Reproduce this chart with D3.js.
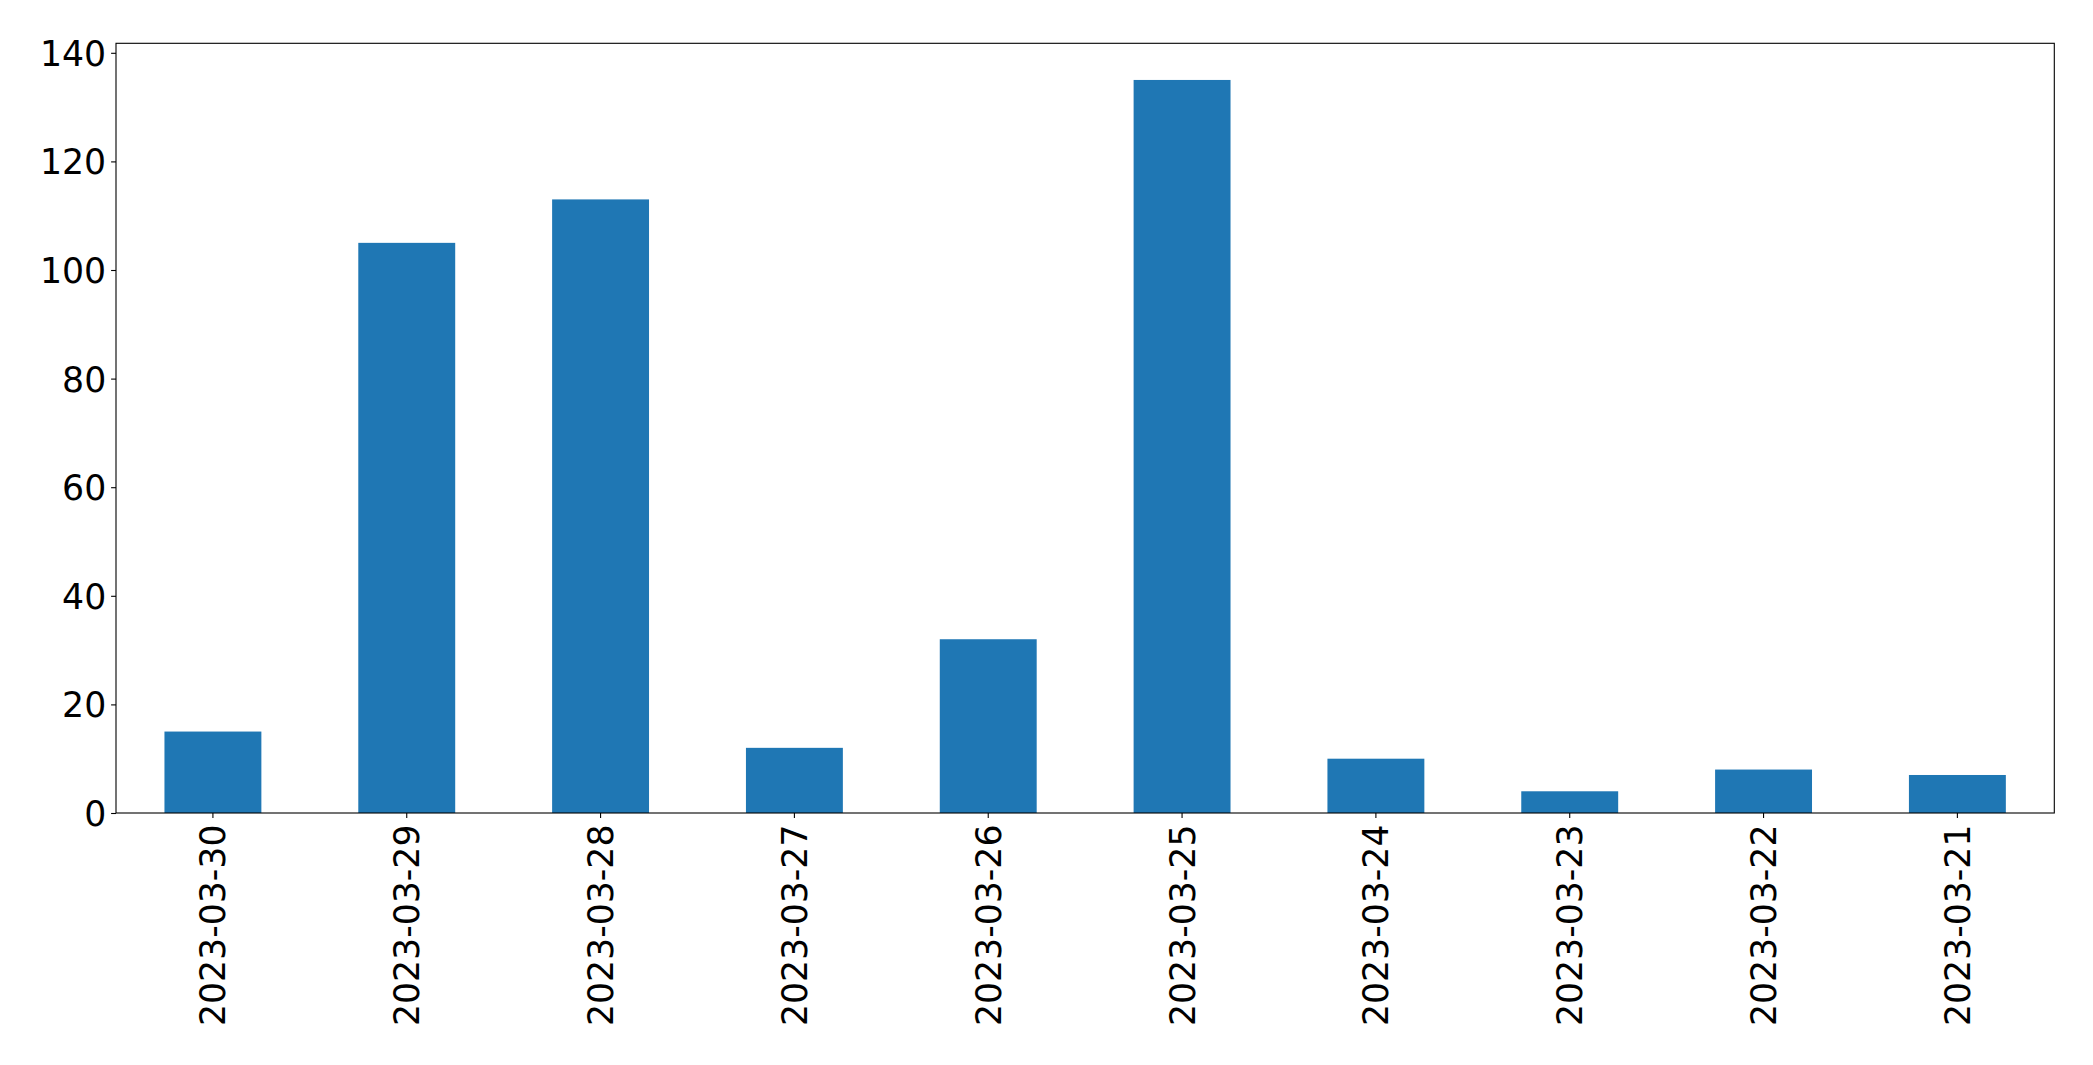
<!DOCTYPE html>
<html><head><meta charset="utf-8">
<script src="https://cdn.jsdelivr.net/npm/d3@7"></script>
<style>
body{margin:0;background:#fff;}
svg{display:block;}
text{font-family:"DejaVu Sans",sans-serif;fill:#000;}
</style></head>
<body>
<script>
const categories = ["2023-03-30","2023-03-29","2023-03-28","2023-03-27","2023-03-26","2023-03-25","2023-03-24","2023-03-23","2023-03-22","2023-03-21"];
const values = [15,105,113,12,32,135,10,4,8,7];
const yTicks = [0,20,40,60,80,100,120,140];

const W = 2093, H = 1065;
const m = {left:116, right:2093-2054.3, top:43.3, bottom:1065-813};
const svg = d3.select("body").append("svg").attr("width",W).attr("height",H);

const x = d3.scaleBand().domain(categories).range([m.left, W-m.right]).paddingInner(0.5).paddingOuter(0.25);
const yMax = d3.max(values)*1.05;
const y = d3.scaleLinear().domain([0,yMax]).range([H-m.bottom, m.top]);

svg.append("g").selectAll("rect").data(values).join("rect")
  .attr("x",(d,i)=>x(categories[i]))
  .attr("width",x.bandwidth())
  .attr("y",d=>y(d))
  .attr("height",d=>y(0)-y(d))
  .attr("fill","#1f77b4");

const fs = "34.7px";
const yAxis = svg.append("g").attr("transform",`translate(${m.left},0)`)
  .call(d3.axisLeft(y).tickValues(yTicks).tickSize(4.9).tickPadding(4.9));
yAxis.select(".domain").remove();
yAxis.selectAll("line").attr("stroke","#000").attr("stroke-width",1.1);
yAxis.selectAll("text").attr("font-size",fs).attr("font-family","DejaVu Sans").attr("dy","0.36em");

const xAxis = svg.append("g").attr("transform",`translate(0,${H-m.bottom})`)
  .call(d3.axisBottom(x).tickSize(4.9).tickPadding(0));
xAxis.select(".domain").remove();
xAxis.selectAll("line").attr("stroke","#000").attr("stroke-width",1.1);
xAxis.selectAll("text")
  .attr("font-size",fs).attr("font-family","DejaVu Sans")
  .attr("transform","translate(0,11.5) rotate(-90)")
  .attr("text-anchor","end").attr("x",0).attr("y",0).attr("dy","0.36em");

svg.append("rect").attr("x",m.left).attr("y",m.top)
  .attr("width",W-m.right-m.left).attr("height",H-m.bottom-m.top)
  .attr("fill","none").attr("stroke","#000").attr("stroke-width",1.1);
</script>
</body></html>
